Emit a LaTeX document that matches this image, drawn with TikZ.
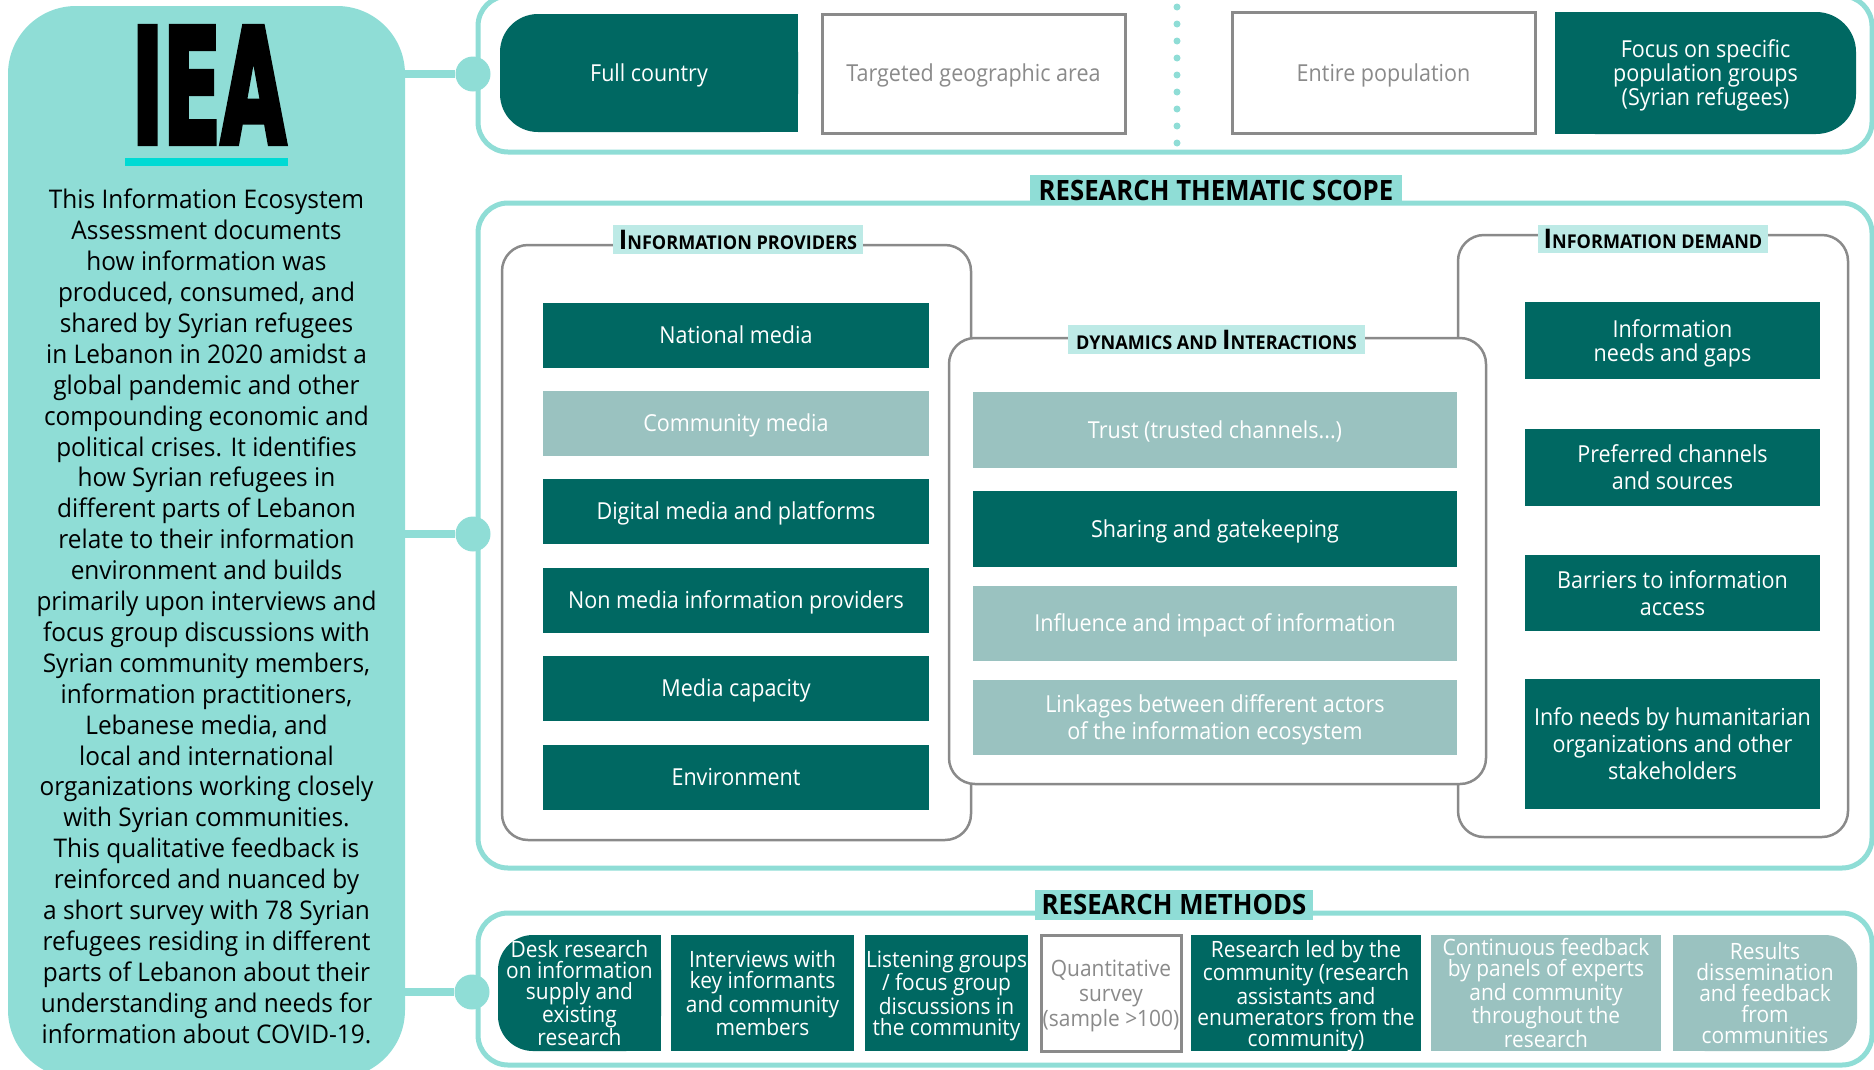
\documentclass[tikz,border=0pt]{standalone}
\usepackage{fontspec}
\setmainfont{Open Sans}
\newfontfamily\boxfont{Open Sans}[FakeStretch=0.92]
\newfontfamily\panelfont{Open Sans}[FakeStretch=0.95]
\newfontfamily\methfont{Open Sans}[FakeStretch=0.93]
\newfontfamily\headfont{Open Sans}[FakeStretch=0.92]
\newfontfamily\labfont{Open Sans}[FakeStretch=0.95]
\newfontfamily\ieafont{DejaVu Sans Bold}[FakeStretch=0.52,FakeBold=2.5]
\definecolor{panel}{RGB}{143,221,214}
\definecolor{dk}{RGB}{0,104,98}
\definecolor{lt}{RGB}{154,194,192}
\definecolor{lab}{RGB}{189,234,230}
\definecolor{gborder}{RGB}{138,138,138}
\definecolor{cyanline}{RGB}{0,218,212}
\newcommand\bigC[1]{{\fontsize{27}{27}\selectfont #1}}
\newcommand\smC[1]{{\fontsize{19}{19}\selectfont #1}}
\tikzset{
  sz/.style 2 args={minimum width=#1pt,minimum height=#2pt},
  basebox/.style={inner sep=0pt,outer sep=0pt,align=center,font=\boxfont\fontsize{23.4}{27}\selectfont},
  one/.style={text height=16.7pt,text depth=0pt},
  ml/.style={text depth=0pt},
  dkbox/.style={basebox,fill=dk,text=white},
  ltbox/.style={basebox,fill=lt,text=white},
  wbox/.style={basebox,draw=gborder,line width=3pt,fill=white,text=gborder},
  txtonly/.style={basebox,text=white},
  mfont/.style={font=\methfont\fontsize{22.5}{21}\selectfont},
  obox/.style={draw=panel,line width=5pt,rounded corners=30pt,inner sep=0pt},
  ibox/.style={draw=gborder,line width=2.5pt,rounded corners=26pt,inner sep=0pt},
  sectlab/.style={fill=panel,inner sep=0pt,text=black,font=\headfont\bfseries\fontsize{28}{28}\selectfont},
  sublab/.style={fill=lab,inner sep=0pt,text=black,font=\labfont\bfseries},
  dotnode/.style={circle,fill=panel,minimum size=35pt,inner sep=0pt},
  conn/.style={draw=panel,line width=8pt}
}
\begin{document}
\begin{tikzpicture}[x=1pt,y=-1pt]
\useasboundingbox (0,0) rectangle (1874,1069);
\clip (0,0) rectangle (1874,1069);
% left panel
\node[fill=panel,rounded corners=68pt,sz={397}{1072},inner sep=0pt] (panel) at (206.5,542) {};
\node[font=\ieafont\fontsize{162}{162}\selectfont,inner sep=0pt,text=black] (iea) at (209,85) {IEA};
\fill[cyanline] (125,158) rectangle (288,166);
\node[anchor=north,inner sep=0pt,align=center,font=\panelfont\fontsize{25.7}{30.9}\selectfont] (ptext) at (206.5,189) {This Information Ecosystem\\Assessment documents\\how information was\\produced, consumed, and\\shared by Syrian refugees\\in Lebanon in 2020 amidst a\\global pandemic and other\\compounding economic and\\political crises. It identifies\\how Syrian refugees in\\different parts of Lebanon\\relate to their information\\environment and builds\\primarily upon interviews and\\focus group discussions with\\Syrian community members,\\information practitioners,\\Lebanese media, and\\local and international\\organizations working closely\\with Syrian communities.\\This qualitative feedback is\\reinforced and nuanced by\\a short survey with 78 Syrian\\refugees residing in different\\parts of Lebanon about their\\understanding and needs for\\information about COVID-19.};
% outer boxes
\node[obox,sz={1394}{156}] (topbox) at (1175,74) {};
\node[obox,sz={1394}{665}] (scope) at (1175,535.5) {};
\node[obox,sz={1394}{152}] (methods) at (1175,989) {};
% connectors
\node[dotnode] (c1) at (473,74) {};
\node[dotnode] (c2) at (473,534) {};
\node[dotnode] (c3) at (472,992) {};
\draw[conn] (c1) -- (c1 -| panel.east);
\draw[conn] (c2) -- (c2 -| panel.east);
\draw[conn] (c3) -- (c3 -| panel.east);
% top row
\fill[dk,rounded corners=38pt] (500,14) rectangle (798,132);
\fill[dk] (600,14) rectangle (798,132);
\node[txtonly,one,sz={298}{118}] (fc) at (649,73) {Full country};
\node[wbox,one,sz={303}{119}] (tg) at (973.5,73.5) {Targeted geographic area};
\foreach \i in {0,...,8} \fill[panel] (1177,7+\i*17) circle (3.5pt);
\node[wbox,one,sz={303}{121}] (ep) at (1383.5,73) {Entire population};
\fill[dk,rounded corners=40pt] (1555,12) rectangle (1856,134);
\fill[dk] (1555,12) rectangle (1750,134);
\node[txtonly,ml,sz={301}{122},font=\boxfont\fontsize{23.4}{24}\selectfont] (fo) at (1705.5,73) {Focus on specific\\population groups\\(Syrian refugees)};
% thematic scope
\node[ibox,sz={469}{595}] (prov) at (736.5,542.5) {};
\node[ibox,sz={390}{602}] (dem) at (1653,536) {};
\node[ibox,fill=white,sz={537}{446}] (dyn) at (1217.5,561) {};
\node[sectlab,sz={372}{30}] (rts) at (1216,190) {RESEARCH THEMATIC SCOPE};
\node[sublab,sz={250}{29}] (provlab) at (738,239.5) {\bigC{I}\smC{NFORMATION PROVIDERS}};
\node[sublab,sz={297}{29}] (dynlab) at (1216.5,339.5) {\smC{DYNAMICS AND }\bigC{I}\smC{NTERACTIONS}};
\node[sublab,sz={230}{28}] (demlab) at (1653,239) {\bigC{I}\smC{NFORMATION DEMAND}};
% providers
\node[dkbox,one,sz={386}{65}] (p1) at (736,335) {National media};
\node[ltbox,one,sz={386}{65}] (p2) at (736,423) {Community media};
\node[dkbox,one,sz={386}{65}] (p3) at (736,511.5) {Digital media and platforms};
\node[dkbox,one,sz={386}{65}] (p4) at (736,600.5) {Non media information providers};
\node[dkbox,one,sz={386}{65}] (p5) at (736,688.5) {Media capacity};
\node[dkbox,one,sz={386}{65}] (p6) at (736,777) {Environment};
% dynamics
\node[ltbox,one,sz={484}{76}] (d1) at (1215,430) {Trust (trusted channels...)};
\node[dkbox,one,sz={484}{76}] (d2) at (1215,529) {Sharing and gatekeeping};
\node[ltbox,one,sz={484}{75}] (d3) at (1215,623) {Influence and impact of information};
\node[ltbox,ml,sz={484}{75}] (d4) at (1215,717.5) {Linkages between different actors\\of the information ecosystem};
% demand
\node[dkbox,ml,sz={295}{77},font=\boxfont\fontsize{23.4}{24}\selectfont] (n1) at (1672.5,340.5) {Information\\needs and gaps};
\node[dkbox,ml,sz={295}{77}] (n2) at (1672.5,467.5) {Preferred channels\\and sources};
\node[dkbox,ml,sz={295}{76}] (n3) at (1672.5,593) {Barriers to information\\access};
\node[dkbox,ml,sz={295}{130}] (n4) at (1672.5,744) {Info needs by humanitarian\\organizations and other\\stakeholders};
% methods
\node[sectlab,sz={278}{30}] (rm) at (1174,904.5) {RESEARCH METHODS};
\fill[dk,rounded corners=35pt] (498,935) rectangle (661,1051);
\fill[dk] (580,935) rectangle (661,1051);
\node[txtonly,mfont,ml,sz={163}{116}] (m1) at (579.5,993) {Desk research\\on information\\supply and\\existing\\research};
\node[dkbox,mfont,ml,sz={183}{116}] (m2) at (762.5,993) {Interviews with\\key informants\\and community\\members};
\node[dkbox,mfont,ml,sz={163}{116}] (m3) at (946.5,993) {Listening groups\\/ focus group\\discussions in\\the community};
\node[wbox,ml,font=\methfont\fontsize{22.5}{25}\selectfont,sz={140}{116}] (m4) at (1111,993) {Quantitative\\survey\\(sample >100)};
\node[dkbox,mfont,ml,sz={230}{116}] (m5) at (1306,993) {Research led by the\\community (research\\assistants and\\enumerators from the\\community)};
\node[ltbox,mfont,ml,sz={230}{116}] (m6) at (1546,993) {Continuous feedback\\by panels of experts\\and community\\throughout the\\research};
\fill[lt,rounded corners=32pt] (1673,935) rectangle (1857,1051);
\fill[lt] (1673,935) rectangle (1760,1051);
\node[txtonly,mfont,ml,sz={184}{116}] (m7) at (1765,993) {Results\\dissemination\\and feedback\\from\\communities};
\end{tikzpicture}
\end{document}
